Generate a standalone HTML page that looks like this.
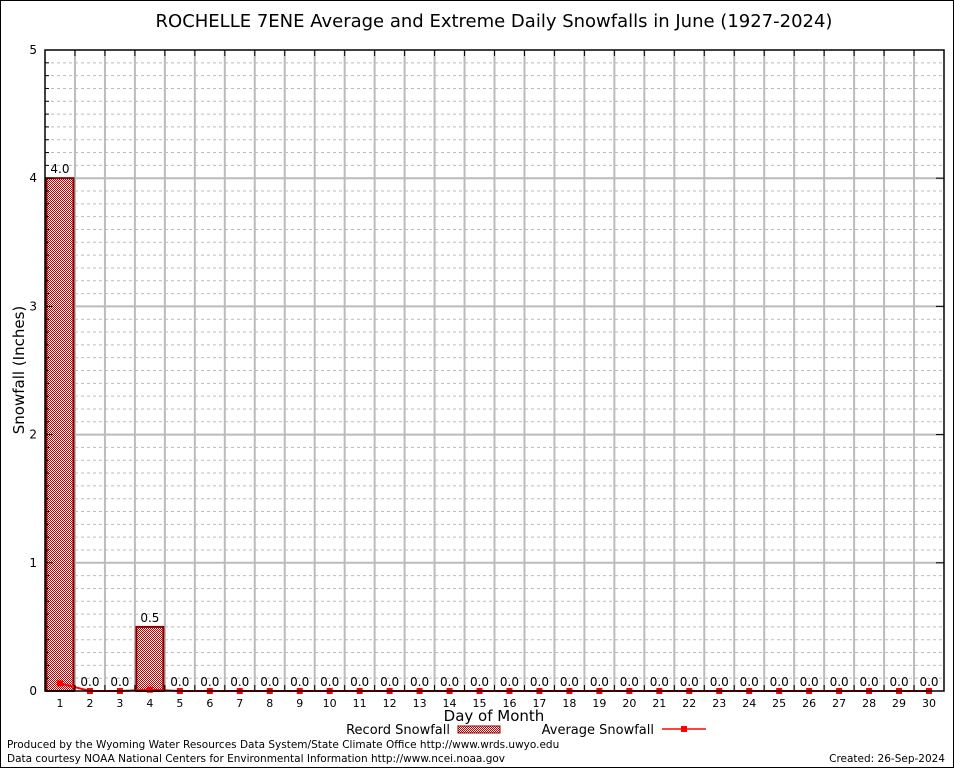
<!DOCTYPE html>
<html><head><meta charset="utf-8"><style>
body{margin:0;background:#fff;}
#c{position:relative;width:954px;height:768px;}
text{font-family:"DejaVu Sans","Liberation Sans",sans-serif;}
</style></head><body>
<div id="c">
<svg id="svg" width="954" height="768" xmlns="http://www.w3.org/2000/svg">
<defs>
<pattern id="chk" width="2" height="2" patternUnits="userSpaceOnUse">
<rect width="2" height="2" fill="#fff"/><rect width="1" height="1" fill="#c00000"/><rect x="1" y="1" width="1" height="1" fill="#c00000"/>
</pattern>
</defs>
<rect x="0.5" y="0.5" width="953" height="767" fill="#fff" stroke="#000"/>
<text x="494" y="27" font-size="18" text-anchor="middle">ROCHELLE 7ENE Average and Extreme Daily Snowfalls in June (1927-2024)</text>
<g id="grid"></g>
<g id="bars"></g>
<g id="line"></g>
<g id="axes"></g>
<text x="24" y="370" font-size="15" text-anchor="middle" transform="rotate(-90 24 370)">Snowfall (Inches)</text>
<text x="494" y="721" font-size="15" text-anchor="middle">Day of Month</text>
<g>
<text x="450" y="734" font-size="13" text-anchor="end">Record Snowfall</text>
<rect x="458" y="726" width="42" height="7" fill="url(#chk)" stroke="#8b0000"/>
<text x="654" y="734" font-size="13" text-anchor="end">Average Snowfall</text>
<line x1="662" y1="729" x2="706" y2="729" stroke="#f00" stroke-width="1.5"/>
<rect x="681" y="726" width="6" height="6" fill="#f00"/>
</g>
<text x="7" y="748" font-size="10.5">Produced by the Wyoming Water Resources Data System/State Climate Office http://www.wrds.uwyo.edu</text>
<text x="7" y="762" font-size="10.5">Data courtesy NOAA National Centers for Environmental Information http://www.ncei.noaa.gov</text>
<text x="945" y="762" font-size="10.5" text-anchor="end">Created: 26-Sep-2024</text>
</svg>
</div>
<script>
const days=[1,2,3,4,5,6,7,8,9,10,11,12,13,14,15,16,17,18,19,20,21,22,23,24,25,26,27,28,29,30];
const recordSnow=[4.0,0,0,0.5,0,0,0,0,0,0,0,0,0,0,0,0,0,0,0,0,0,0,0,0,0,0,0,0,0,0];
const avgSnow=[0.06,0,0,0.01,0,0,0,0,0,0,0,0,0,0,0,0,0,0,0,0,0,0,0,0,0,0,0,0,0,0];
const yTicks=[0,1,2,3,4,5];
const NS="http://www.w3.org/2000/svg";
const L=45,R=944,T=50,B=691,yMax=5;
const bw=(R-L)/days.length;
function x(i){return L+bw*(i+0.5);}
function y(v){return B-(B-T)*v/yMax;}
function mk(tag,attrs,parent){const e=document.createElementNS(NS,tag);for(const k in attrs)e.setAttribute(k,attrs[k]);parent.appendChild(e);return e;}
const grid=document.getElementById('grid'),bars=document.getElementById('bars'),line=document.getElementById('line'),axes=document.getElementById('axes');
for(let v=1;v<yMax*10;v++){if(v%10===0)continue;
 const g=mk('line',{x1:L,x2:R,y1:y(v/10),y2:y(v/10),stroke:'#bbb','stroke-dasharray':'3,3'},grid);
 
 
 const t1=mk('line',{x1:L,x2:L+4,y1:y(v/10),y2:y(v/10),stroke:'#000'},axes);
 
 
}
yTicks.forEach(v=>{
 if(v>0&&v<yMax){const g=mk('line',{x1:L,x2:R,y1:y(v),y2:y(v),stroke:'#bbb','stroke-width':2},grid);
 
 }
 const t=mk('text',{x:L-8,y:y(v)+4,'font-size':12,'text-anchor':'end','font-family':'Liberation Serif, serif'},axes);
 t.textContent=v;
 
 
 const tk=mk('line',{x1:L,x2:L+8,y1:y(v),y2:y(v),stroke:'#000'},axes);
 
 
 const tk2=mk('line',{x1:R-8,x2:R,y1:y(v),y2:y(v),stroke:'#000'},axes);
 
 
});
for(let i=1;i<days.length;i++){
 const xv=L+bw*i;
 const g=mk('line',{x1:xv,x2:xv,y1:T,y2:B,stroke:'#bbb','stroke-width':2},grid);
 
 
 const tt=mk('line',{x1:xv,x2:xv,y1:T,y2:T+6,stroke:'#000'},axes);
 
 
 const tb=mk('line',{x1:xv,x2:xv,y1:B-6,y2:B,stroke:'#000'},axes);
 
 
}
days.forEach((d,i)=>{
 const v=recordSnow[i];
 if(v>0){const r=mk('rect',{x:x(i)-13.5,y:y(v),width:27,height:B-y(v),fill:'url(#chk)',stroke:'#8b0000','stroke-width':2},bars);
 
 }
 const lb=mk('text',{x:x(i),y:y(v)-5,'font-size':12,'text-anchor':'middle'},bars);
 lb.textContent=v.toFixed(1);
 
 
 const xl=mk('text',{x:x(i),y:B+16,'font-size':11,'text-anchor':'middle','font-family':'Liberation Serif, serif'},axes);
 xl.textContent=d;
 
 
});
const pl=mk('polyline',{points:days.map((d,i)=>x(i)+','+y(avgSnow[i])).join(' '),fill:'none',stroke:'#f00','stroke-width':2},line);


days.forEach((d,i)=>{
 const m=mk('rect',{x:x(i)-3,y:y(avgSnow[i])-3,width:6,height:6,fill:'#f00'},line);
 
 
});
const fr=mk('rect',{x:L,y:T,width:R-L,height:B-T,fill:'none',stroke:'#000','stroke-width':1.5},axes);


</script>
</body></html>
